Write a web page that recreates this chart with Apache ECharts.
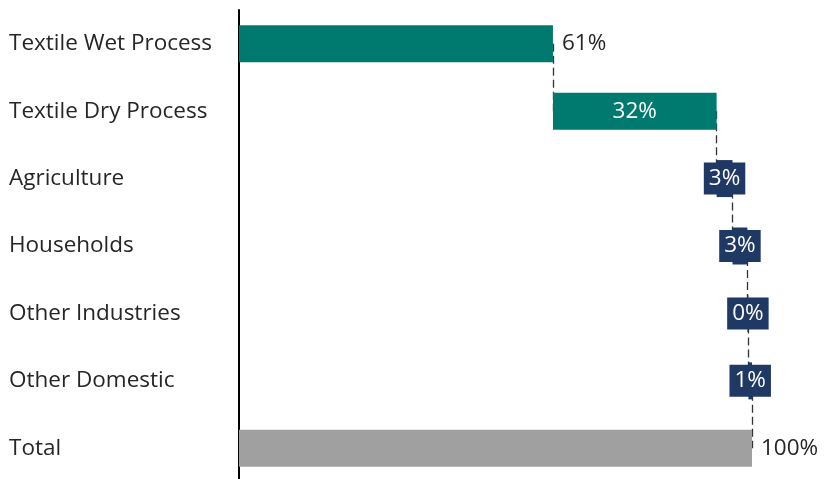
<!DOCTYPE html>
<html><head><meta charset="utf-8">
<script src="https://cdn.jsdelivr.net/npm/echarts@6/dist/echarts.min.js"></script>
<style>html,body{margin:0;padding:0;background:#fff;overflow:hidden}#c{width:826px;height:490px}</style>
</head><body><div id="c"></div>
<script>
const categories = ['Textile Wet Process','Textile Dry Process','Agriculture','Households','Other Industries','Other Domestic','Total'];
const values = [61.2, 31.9, 3.1, 2.9, 0.2, 0.7];
const valueLabels = ['61%','32%','3%','3%','0%','1%','100%'];
const total = 100;

const FONT = 'Open Sans';
const teal = '#007A6E', navy = '#1F3864', gray = '#A0A0A0';

const bases = [], visible = [];
let cum = 0;
values.forEach((v) => { bases.push(cum); visible.push(v); cum += v; });
bases.push(0); visible.push(total);

const colors = categories.map((c, i) => i < 2 ? teal : (i === 6 ? gray : navy));

const barData = visible.map((v, i) => {
  const d = { value: v, itemStyle: { color: colors[i] } };
  if (i === 0 || i === 6) {
    d.label = { position: 'right', color: '#262626', distance: 9 };
  } else if (i === 1) {
    d.label = { position: 'inside', color: '#fff' };
  } else {
    d.label = { position: 'inside', color: '#fff', backgroundColor: navy, padding: [5, 5, 4, 5] };
  }
  return d;
});

const connectors = [];
for (let i = 0; i < values.length; i++) {
  const x = bases[i] + values[i];
  connectors.push([{ coord: [x, i] }, { coord: [x, i + 1] }]);
}

const chart = echarts.init(document.getElementById('c'));
chart.setOption({
  animation: false,
  grid: { left: 239, right: 74, top: 10, height: 472 },
  xAxis: { type: 'value', min: 0, max: 100, show: false },
  yAxis: {
    type: 'category', data: categories, inverse: true,
    axisLine: { lineStyle: { color: '#000', width: 2 } },
    axisTick: { show: false },
    axisLabel: { fontFamily: FONT, fontSize: 22.5, color: '#262626', align: 'left', margin: 230 }
  },
  series: [
    { type: 'bar', stack: 'w', data: bases, itemStyle: { color: 'transparent' }, barWidth: 37, z: 1,
      markLine: { symbol: 'none', silent: true, label: { show: false },
        lineStyle: { color: '#333', type: [8, 4], width: 1.3 }, data: connectors, z: 1 } },
    { type: 'bar', stack: 'w', data: barData, barWidth: 37, z: 3,
      label: { show: true, fontFamily: FONT, fontSize: 22.5,
        formatter: (p) => valueLabels[p.dataIndex] } }
  ]
});
</script></body></html>
